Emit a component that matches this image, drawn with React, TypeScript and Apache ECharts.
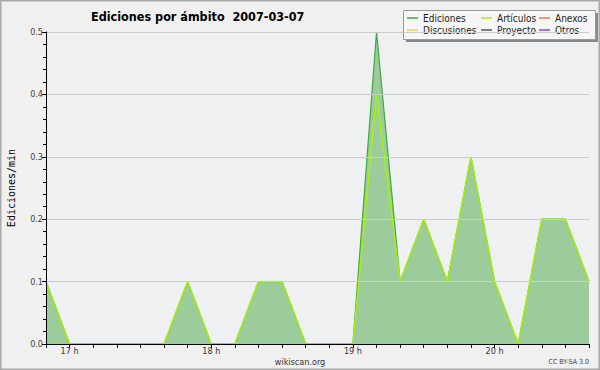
import React, { useEffect, useRef } from "react";
import * as echarts from "echarts";

const times = [
  "16:50", "17:00", "17:10", "17:20", "17:30", "17:40", "17:50", "18:00",
  "18:10", "18:20", "18:30", "18:40", "18:50", "19:00", "19:10", "19:20",
  "19:30", "19:40", "19:50", "20:00", "20:10", "20:20", "20:30", "20:40",
];
const ediciones = [0.1, 0, 0, 0, 0, 0, 0.1, 0, 0, 0.1, 0.1, 0, 0, 0, 0.5, 0.1, 0.2, 0.1, 0.3, 0.1, 0, 0.2, 0.2, 0.1];
const articulos = [0.1, 0, 0, 0, 0, 0, 0.1, 0, 0, 0.1, 0.1, 0, 0, 0, 0.4, 0.1, 0.2, 0.1, 0.3, 0.1, 0, 0.2, 0.2, 0.1];
const discusiones = [0, 0, 0, 0, 0, 0, 0, 0, 0, 0, 0, 0, 0, 0, 0, 0, 0, 0, 0, 0, 0, 0, 0, 0];
const anexos = [0, 0, 0, 0, 0, 0, 0, 0, 0, 0, 0, 0, 0, 0, 0, 0, 0, 0, 0, 0, 0, 0, 0, 0];
const proyecto = [0, 0, 0, 0, 0, 0, 0, 0, 0, 0, 0, 0, 0, 0, 0, 0, 0, 0, 0, 0, 0, 0, 0, 0];
const otros = [0, 0, 0, 0, 0, 0, 0, 0, 0, 0, 0, 0, 0, 0, 0, 0, 0, 0, 0, 0, 0, 0, 0, 0];

const titleText = "Ediciones por ámbito  2007-03-07";
const yName = "Ediciones/min";

const FONT = "'DejaVu Sans Condensed', 'DejaVu Sans'";

export default function App() {
  const ref = useRef<HTMLDivElement>(null);
  useEffect(() => {
    document.body.style.margin = "0";
    const chart = echarts.init(ref.current!, null, { renderer: "svg" });
    const line = (name: string, data: number[], color: string, width = 1, area = false, z = 2) => ({
      name,
      type: "line",
      data,
      symbol: "none",
      z,
      itemStyle: { color },
      lineStyle: { color, width },
      areaStyle: area ? { color: "#9ccb9c", opacity: 1 } : undefined,
    });
    const legendBase = {
      orient: "vertical",
      top: 13,
      itemGap: 2,
      itemWidth: 11,
      itemHeight: 1.5,
      icon: "rect",
      padding: 0,
      textStyle: { fontFamily: FONT, fontSize: 10, color: "#222" },
    };
    chart.setOption({
      animation: false,
      backgroundColor: "#f0f0f0",
      title: {
        text: titleText,
        left: 86,
        top: 5,
        textStyle: { fontFamily: FONT, fontSize: 12.5, fontWeight: "bold", color: "#000" },
      },
      legend: [
        { ...legendBase, left: 407, data: ["Ediciones", "Discusiones"] },
        { ...legendBase, left: 481, data: ["Artículos", "Proyecto"] },
        { ...legendBase, left: 539, data: ["Anexos", "Otros"] },
      ],
      graphic: [
        { type: "rect", z: 0, shape: { x: 0.5, y: 0.5, width: 599, height: 369 }, style: { fill: "none", stroke: "#aaaaaa", lineWidth: 2 } },
        { type: "rect", z: 0, shape: { x: 406, y: 13, width: 192, height: 29 }, style: { fill: "#888888" } },
        { type: "rect", z: 0, shape: { x: 403.5, y: 10.5, width: 192, height: 29 }, style: { fill: "#f6f6f6", stroke: "#999999", lineWidth: 1 } },
        { type: "text", x: 300, y: 362, style: { text: "wikiscan.org", fontFamily: FONT, fontSize: 9, fill: "#333", textAlign: "center", textVerticalAlign: "middle" } },
        { type: "text", x: 589, y: 362, style: { text: "CC BY-SA 3.0", fontFamily: FONT, fontSize: 7, fill: "#444", textAlign: "right", textVerticalAlign: "middle" } },
      ],
      grid: {
        left: 46, right: 11, top: 32, bottom: 26,
        outerBoundsMode: "none",
        containLabel: false,
        show: true, backgroundColor: "#eef0f2", borderWidth: 0,
      },
      xAxis: {
        type: "category",
        data: times,
        boundaryGap: false,
        z: 10,
        axisLine: { lineStyle: { color: "#000", width: 1 } },
        axisTick: { show: true, interval: 0, length: 4, lineStyle: { color: "#000" } },
        axisLabel: {
          interval: (i: number, v: string) => v.endsWith(":00"),
          formatter: (v: string) => `${parseInt(v, 10)} h`,
          fontFamily: FONT, fontSize: 9, color: "#333", margin: 2,
        },
        splitLine: { show: false },
      },
      yAxis: {
        type: "value",
        min: 0,
        max: 0.5,
        interval: 0.1,
        name: yName,
        nameLocation: "middle",
        nameGap: 30,
        nameTextStyle: { fontFamily: "DejaVu Sans Mono", fontSize: 10, color: "#000" },
        z: 10,
        axisLine: { show: true, lineStyle: { color: "#000" } },
        axisTick: { show: true, length: 4, lineStyle: { color: "#000" } },
        minorTick: { show: true, splitNumber: 5, length: 3, lineStyle: { color: "#000" } },
        axisLabel: {
          formatter: (v: number) => v.toFixed(1),
          fontFamily: FONT, fontSize: 9, color: "#444", margin: 3,
        },
        splitLine: { show: true, lineStyle: { color: "#cccccc", width: 1 } },
      },
      series: [
        line("Discusiones", discusiones, "#ffcc33"),
        line("Anexos", anexos, "#ee7744"),
        line("Proyecto", proyecto, "#555555"),
        line("Otros", otros, "#8844ee"),
        line("Ediciones", ediciones, "#3caa3c", 1.2, true, 3),
        line("Artículos", articulos, "#aaee11", 1.5, false, 4),
      ],
    });
    return () => chart.dispose();
  }, []);
  return <div ref={ref} style={{ width: 600, height: 370 }} />;
}
